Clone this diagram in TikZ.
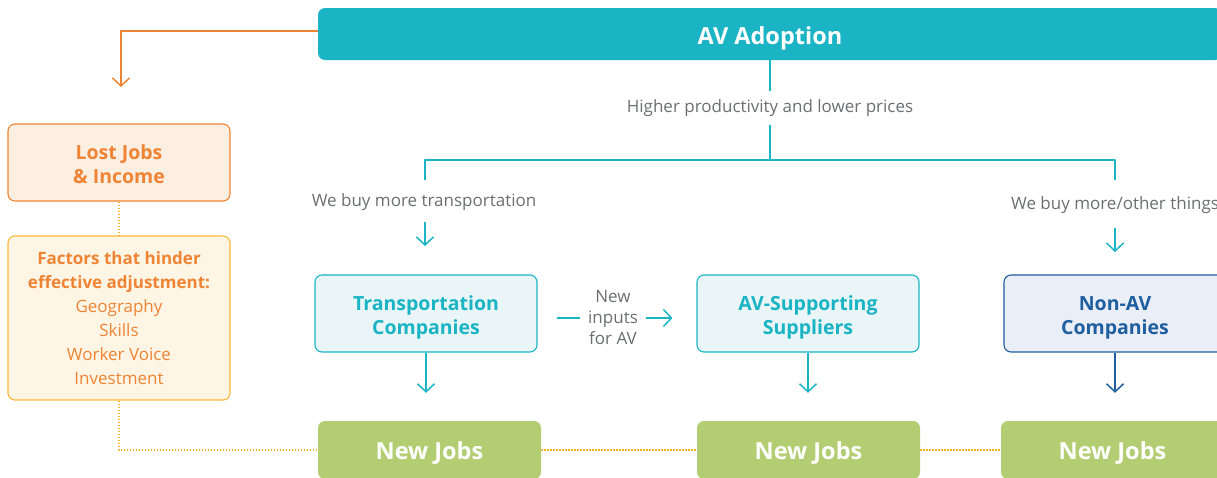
\documentclass[tikz,border=0pt]{standalone}
\usepackage{fontspec}
\setmainfont{Open Sans}
\usetikzlibrary{arrows.meta}
\definecolor{avteal}{HTML}{1AB4C4}
\definecolor{tealfill}{HTML}{E9F5F7}
\definecolor{avorange}{HTML}{EE8434}
\definecolor{lostfill}{HTML}{FDEEE2}
\definecolor{hinderline}{HTML}{F9B93A}
\definecolor{hinderfill}{HTML}{FEF5E5}
\definecolor{dotyellow}{HTML}{F6B22A}
\definecolor{avblue}{HTML}{1F5E9F}
\definecolor{bluefill}{HTML}{EAEEF7}
\definecolor{jobgreen}{HTML}{B2CD72}
\definecolor{avgrey}{HTML}{6D6E70}
\newcommand\boxstrut{\rule{0pt}{22pt}}
\begin{document}
\begin{tikzpicture}[x=1pt, y=-1pt, line join=round, >={Straight Barb[length=8pt,width=17pt]},
    box/.style={draw, rounded corners=7pt, line width=1.1pt, minimum width=222pt, minimum height=77pt,
      align=center, inner sep=0pt, font=\fontsize{19.5}{24}\selectfont\bfseries},
    jobbox/.style={fill=jobgreen, rounded corners=7pt, minimum width=223pt, minimum height=58pt,
      text=white, text height=19pt, text depth=0pt, font=\fontsize{23.5}{26}\selectfont\bfseries},
    note/.style={text=avgrey, font=\fontsize{17}{21}\selectfont, align=center},
    link/.style={line width=1.5pt},
    dots/.style={draw=dotyellow, line width=1.5pt, dash pattern=on 1.5pt off 1.5pt}]
  \useasboundingbox (0,0) rectangle (1217,477);
  \clip (0,0) rectangle (1217,477);

  % top bar
  \node[fill=avteal, rounded corners=7pt, minimum width=904pt, minimum height=52pt, text=white,
    text height=20pt, text depth=0pt, font=\fontsize{23.5}{26}\selectfont\bfseries] (adopt) at (770,34) {AV Adoption};
  \node[note, inner ysep=8pt] (prod) at (770,108) {Higher productivity and lower prices};
  \coordinate (split) at (770,160);
  \coordinate (buyl) at (425,180);
  \coordinate (buyr) at (1115,180);
  \draw[link, avteal] (adopt) -- (prod);
  \draw[link, avteal] (prod) -- (split);
  \draw[link, avteal] (buyl) |- (split) -| (buyr);
  \node[note] (morel) at (424,202) {We buy more transportation};
  \node[note] (morer) at (1115,205) {We buy more/other things};
  \coordinate (al1) at (425,222); \coordinate (al2) at (425,246);
  \coordinate (ar1) at (1115,228); \coordinate (ar2) at (1115,252);
  \draw[link, avteal, ->] (al1) -- (al2);
  \draw[link, avteal, ->] (ar1) -- (ar2);

  % companies
  \node[box, draw=avteal, fill=tealfill, text=avteal] (trans) at (426,313.5) {\boxstrut Transportation\\Companies};
  \node[box, draw=avteal, fill=tealfill, text=avteal] (supp) at (808,313.5) {\boxstrut AV-Supporting\\Suppliers};
  \node[box, draw=avblue, fill=bluefill, text=avblue] (nonav) at (1115,313.5) {\boxstrut Non-AV\\Companies};
  \node[note, inner xsep=8pt] (inputs) at (613,318) {New\\inputs\\for AV};
  \draw[link, avteal] ([xshift=19pt]inputs.west -| trans.east) -- (inputs.west);
  \draw[link, avteal, ->] (inputs.east) -- ([xshift=-24pt]inputs.east -| supp.west);

  % new jobs
  \node[jobbox] (jobsa) at (429.5,450) {New Jobs};
  \node[jobbox] (jobsb) at (808.5,450) {New Jobs};
  \node[jobbox] (jobsc) at (1112.5,450) {New Jobs};
  \draw[link, avteal, ->] (trans) -- ([yshift=28pt]jobsa.north -| trans.south);
  \draw[link, avteal, ->] (supp) -- ([yshift=28pt]jobsb.north -| supp.south);
  \draw[link, avblue, ->] (nonav) -- ([yshift=28pt]jobsc.north -| nonav.south);

  % lost jobs side
  \coordinate (lostin) at (121,87);
  \draw[link, avorange, ->] ([yshift=3pt]adopt.west) -| (lostin);
  \node[box, draw=avorange, fill=lostfill, text=avorange] (lost) at (119,162.5) {\rule{0pt}{18pt}Lost Jobs\\\& Income};
  \node[box, draw=hinderline, fill=hinderfill, text=avorange, minimum height=164pt,
    font=\fontsize{17}{24}\selectfont] (hinder) at (119,318)
    {\textbf{Factors that hinder}\\\textbf{effective adjustment:}\\Geography\\Skills\\Worker Voice\\Investment};
  \draw[dots] (lost) -- (hinder);
  \draw[dots] (hinder.south) |- (jobsa.west);
  \draw[dots] (jobsa) -- (jobsb);
  \draw[dots] (jobsb) -- (jobsc);
\end{tikzpicture}
\end{document}
